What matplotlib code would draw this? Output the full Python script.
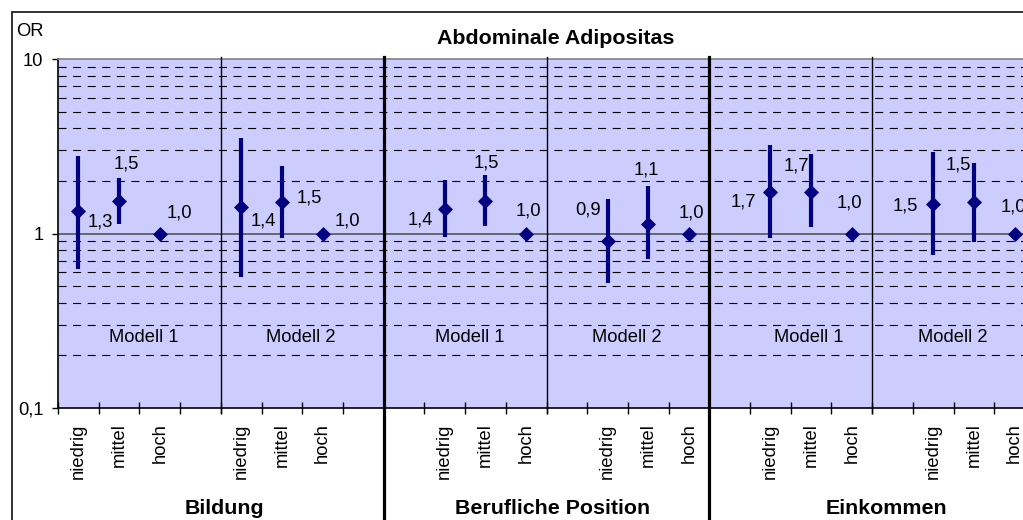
import matplotlib
matplotlib.use("Agg")
import matplotlib.pyplot as plt
from matplotlib.ticker import LogLocator, FixedLocator, NullFormatter
from matplotlib.patches import Rectangle
import matplotlib.transforms as mtransforms

plt.rcParams['font.family'] = ['Liberation Sans', 'DejaVu Sans']
plt.rcParams['lines.scale_dashes'] = False

# ---------------- data ----------------
category_labels = ["niedrig", "mittel", "hoch", "",
                   "niedrig", "mittel", "hoch", "",
                   "", "niedrig", "mittel", "hoch",
                   "", "niedrig", "mittel", "hoch",
                   "", "niedrig", "mittel", "hoch",
                   "", "niedrig", "mittel", "hoch"]

# category index of each estimate
point_cat = [0, 1, 2, 4, 5, 6,
             9, 10, 11, 13, 14, 15,
             17, 18, 19, 21, 22, 23]
odds_ratio = [1.34, 1.54, 1.0, 1.41, 1.52, 1.0,
              1.38, 1.54, 1.0, 0.90, 1.14, 1.0,
              1.74, 1.74, 1.0, 1.48, 1.52, 1.0]
ci_low = [0.63, 1.14, None, 0.56, 0.94, None,
          0.96, 1.11, None, 0.52, 0.71, None,
          0.94, 1.09, None, 0.75, 0.89, None]
ci_high = [2.77, 2.07, None, 3.53, 2.45, None,
           2.03, 2.16, None, 1.58, 1.86, None,
           3.23, 2.84, None, 2.92, 2.53, None]

model_labels = ["Modell 1", "Modell 2", "Modell 1", "Modell 2", "Modell 1", "Modell 2"]
group_labels = ["Bildung", "Berufliche Position", "Einkommen"]
title = "Abdominale Adipositas"
y_ticks = [0.1, 1, 10]
y_ticklabels = ["0,1", "1", "10"]

# ---------------- layout / style ----------------
label_offsets_px = [(22, 11), (7, -37), (20, -21), (22, 14), (27, -4), (25, -12),
                    (-24, 11), (1, -38), (2, -22), (-19, -31), (-2, -54), (2, -21),
                    (-27, 10), (-15, -26), (-2, -30), (-28, 2), (-16, -37), (-1, -27)]
model_label_x = [2.11, 5.97, 10.12, 13.96, 18.43, 21.99]
group_label_x = [4.08, 12.15, 20.36]
thin_sep = [4, 12, 20]
thick_sep = [8, 16]

W, H = 1023, 520
fig = plt.figure(figsize=(W / 100, H / 100), dpi=100)
fig.patch.set_facecolor('white')

x0, x1, ytop, ybot = 58, 1035, 59, 408
ax = fig.add_axes([x0 / W, (H - ybot) / H, (x1 - x0) / W, (ybot - ytop) / H])
ax.set_facecolor('#CCCCFF')
ax.set_yscale('log')
ax.set_ylim(0.1, 10)
n_cat = len(category_labels)
ax.set_xlim(0, n_cat)

navy = '#000080'
FS = 13.2
FSB = 15.4

# grid
ax.yaxis.set_minor_locator(LogLocator(base=10, subs=[2, 3, 4, 5, 6, 7, 8, 9]))
ax.yaxis.set_minor_formatter(NullFormatter())
ax.grid(which='minor', axis='y', color='black', linewidth=0.8, linestyle=(0, (5.8, 4.7)))
ax.axhline(1, color='#555555', linewidth=1.2, zorder=1.5)
ax.set_axisbelow(True)

# y ticks
ax.set_yticks(y_ticks)
ax.set_yticklabels(y_ticklabels, fontsize=FS)
ax.tick_params(axis='y', which='major', length=4.5, width=1, pad=6, direction='out')
ax.tick_params(axis='y', which='minor', length=0)

# x ticks at category boundaries, labels at centers
ax.xaxis.set_major_locator(FixedLocator(list(range(n_cat + 1))))
ax.xaxis.set_major_formatter(NullFormatter())
ax.tick_params(axis='x', which='major', direction='inout', length=8, width=1)
ax.xaxis.set_minor_locator(FixedLocator([i + 0.5 for i in range(n_cat)]))
ax.set_xticklabels(category_labels, minor=True, rotation=90, fontsize=FS, va='top', ha='center')
ax.tick_params(axis='x', which='minor', length=0, pad=11)

for s in ['left', 'bottom']:
    ax.spines[s].set_color('black')
    ax.spines[s].set_linewidth(1.2)
ax.spines['top'].set_color('#808080')
ax.spines['top'].set_linewidth(1.2)
ax.spines['right'].set_visible(False)

# separators
tr = mtransforms.blended_transform_factory(ax.transData, ax.transAxes)
for xs in thin_sep:
    ax.plot([xs, xs], [-0.015, 1.006], color='black', lw=1.0, transform=tr, clip_on=False, zorder=3)
for xs in thick_sep:
    ax.plot([xs, xs], [-0.5, 1.006], color='black', lw=2.3, transform=tr, clip_on=False, zorder=3)

# error bars and points
xs_pts = [c + 0.5 for c in point_cat]
for x, lo, hi in zip(xs_pts, ci_low, ci_high):
    if lo is not None:
        ax.plot([x, x], [lo, hi], color=navy, lw=3.0, solid_capstyle='butt', zorder=4)
ax.plot(xs_pts, odds_ratio, linestyle='none', marker='D', ms=7.6, color=navy, mec=navy, mew=0.5, zorder=5)

# data labels
for x, v, (dx, dy) in zip(xs_pts, odds_ratio, label_offsets_px):
    txt = f"{v:.1f}".replace('.', ',')
    ax.annotate(txt, (x, v), xytext=(dx * 0.72, -dy * 0.72), textcoords='offset points',
                ha='center', va='center', fontsize=FS, color='black', zorder=6)

# model labels
for xm, lab in zip(model_label_x, model_labels):
    ax.text(xm, 10 ** ((234.5 - 338) / 174.5), lab, ha='center', va='center', fontsize=FS)

# group labels
for xg, lab in zip(group_label_x, group_labels):
    ax.text(xg, -(508 - ybot) / (ybot - ytop), lab, transform=tr, ha='center', va='center',
            fontsize=FSB, fontweight='bold')

# title, OR
fig.text(555.5 / W, 1 - 39 / H, title, ha='center', va='center', fontsize=FSB, fontweight='bold')
fig.text(16 / W, 1 - 32 / H, "OR", ha='left', va='center', fontsize=FS)

# outer border
fig.patches.append(Rectangle((12 / W, -0.1), 1.2, 1 - 12 / H + 0.1, transform=fig.transFigure,
                             fill=False, edgecolor='#222222', linewidth=1.3, figure=fig))

fig.savefig('out.png', dpi=100)
